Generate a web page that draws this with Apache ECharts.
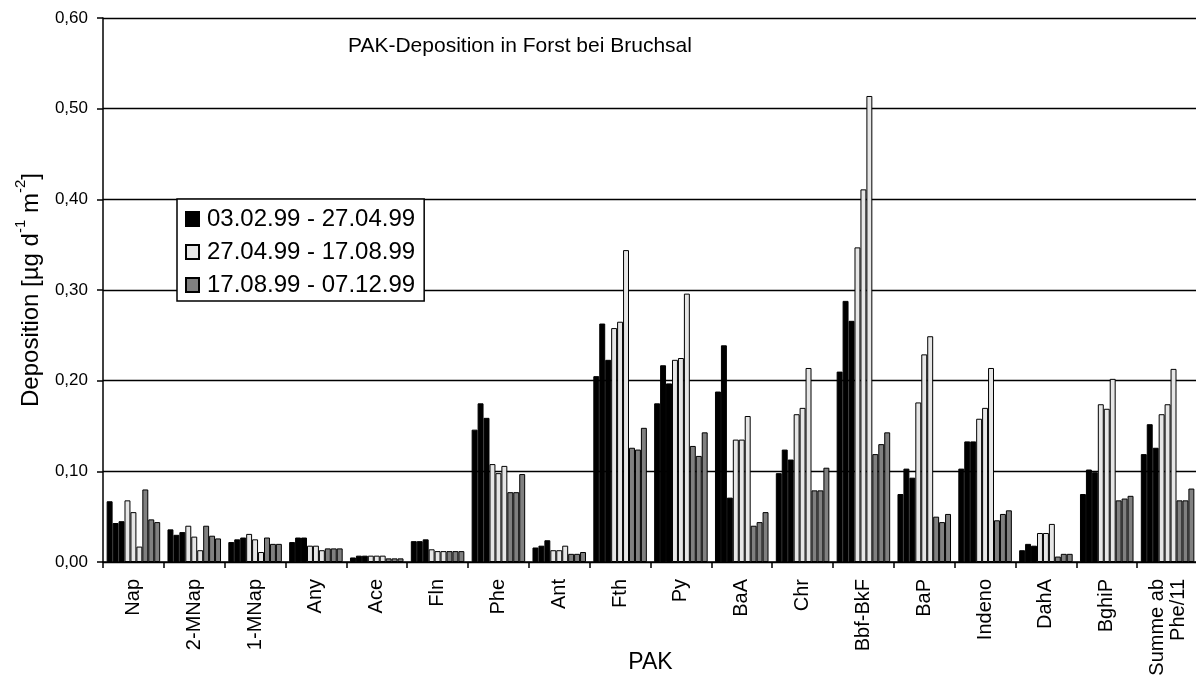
<!DOCTYPE html>
<html>
<head>
<meta charset="utf-8">
<title>PAK-Deposition in Forst bei Bruchsal</title>
<script src="https://cdn.jsdelivr.net/npm/echarts@6/dist/echarts.min.js"></script>
<style>
  html, body { margin: 0; padding: 0; background: #ffffff; }
  #chart { width: 1196px; height: 678px; }
</style>
</head>
<body>
<div id="chart"></div>
<script>
// PAK categories on the x axis
const categories = ['Nap', '2-MNap', '1-MNap', 'Any', 'Ace', 'Fln', 'Phe', 'Ant', 'Fth', 'Py',
  'BaA', 'Chr', 'Bbf-BkF', 'BaP', 'Indeno', 'DahA', 'BghiP', 'Summe ab\nPhe/11'];

// Sampling periods (legend entries)
const periods = ['03.02.99 - 27.04.99', '27.04.99 - 17.08.99', '17.08.99 - 07.12.99'];

// Deposition [µg d-1 m-2], three samplers per period
const p1a = [0.067, 0.036, 0.022, 0.022, 0.005, 0.023, 0.146, 0.016, 0.205, 0.175, 0.188, 0.098, 0.210, 0.075, 0.103, 0.013, 0.075, 0.119];
const p1b = [0.043, 0.030, 0.025, 0.027, 0.007, 0.023, 0.175, 0.018, 0.263, 0.217, 0.239, 0.124, 0.288, 0.103, 0.133, 0.020, 0.102, 0.152];
const p1c = [0.045, 0.033, 0.027, 0.027, 0.007, 0.025, 0.159, 0.024, 0.223, 0.197, 0.071, 0.113, 0.266, 0.093, 0.133, 0.018, 0.099, 0.126];

const p2a = [0.068, 0.040, 0.031, 0.018, 0.007, 0.014, 0.108, 0.013, 0.258, 0.223, 0.135, 0.163, 0.347, 0.176, 0.158, 0.032, 0.174, 0.163];
const p2b = [0.055, 0.028, 0.025, 0.018, 0.007, 0.012, 0.098, 0.013, 0.265, 0.225, 0.135, 0.170, 0.411, 0.229, 0.170, 0.032, 0.169, 0.174];
const p2c = [0.017, 0.013, 0.011, 0.013, 0.007, 0.012, 0.106, 0.018, 0.344, 0.296, 0.161, 0.214, 0.514, 0.249, 0.214, 0.042, 0.202, 0.213];

const p3a = [0.080, 0.040, 0.027, 0.015, 0.004, 0.012, 0.077, 0.009, 0.126, 0.128, 0.040, 0.079, 0.119, 0.050, 0.046, 0.006, 0.068, 0.068];
const p3b = [0.047, 0.029, 0.020, 0.015, 0.004, 0.012, 0.077, 0.009, 0.124, 0.117, 0.044, 0.079, 0.130, 0.044, 0.053, 0.009, 0.070, 0.068];
const p3c = [0.044, 0.026, 0.020, 0.015, 0.004, 0.012, 0.097, 0.011, 0.148, 0.143, 0.055, 0.104, 0.143, 0.053, 0.057, 0.009, 0.073, 0.081];

// Y axis ticks
const yMin = 0, yMax = 0.6, yStep = 0.1;

const FONT = "'Liberation Sans', Arial, Helvetica, sans-serif";
const fills = ['#000000', '#e6e6e6', '#808080'];

const groups = [[p1a, p1b, p1c], [p2a, p2b, p2c], [p3a, p3b, p3c]];
const series = [];
groups.forEach((grp, gi) => {
  grp.forEach(values => {
    series.push({
      type: 'bar',
      name: periods[gi],
      data: values,
      barGap: '0%',
      barCategoryGap: '12%',
      itemStyle: { color: fills[gi], borderColor: '#000000', borderWidth: 1 },
      emphasis: { disabled: true }
    });
  });
});

const chart = echarts.init(document.getElementById('chart'), null, { renderer: 'canvas' });
chart.setOption({
  animation: false,
  backgroundColor: '#ffffff',
  textStyle: { fontFamily: FONT, color: '#000000' },
  title: {
    text: 'PAK-Deposition in Forst bei Bruchsal',
    left: 343, top: 31,
    textStyle: { fontFamily: FONT, fontSize: 21, fontWeight: 'normal', color: '#000000' }
  },
  legend: {
    data: periods,
    orient: 'vertical',
    left: 177, top: 199,
    backgroundColor: '#ffffff',
    borderColor: '#000000',
    borderWidth: 1.5,
    borderRadius: 0,
    padding: [8, 9, 4, 8],
    itemWidth: 13, itemHeight: 14, itemGap: 9,
    icon: 'rect',
    selectedMode: false,
    textStyle: { fontFamily: FONT, fontSize: 24, color: '#000000', padding: [0, 0, 0, 3] }
  },
  grid: { left: 103, right: -2, top: 18, bottom: 116, containLabel: false, outerBoundsMode: 'none' },
  xAxis: {
    type: 'category',
    data: categories,
    name: 'PAK',
    nameLocation: 'middle',
    nameGap: 89,
    nameMoveOverlap: false,
    nameTextStyle: { fontFamily: FONT, fontSize: 23, color: '#000000' },
    axisLine: { lineStyle: { color: '#000000', width: 1.5 } },
    axisTick: { show: true, length: 6, lineStyle: { color: '#000000', width: 1.5 } },
    axisLabel: { interval: 0, rotate: 90, margin: 17, fontFamily: FONT, fontSize: 20, color: '#000000', lineHeight: 21 },
    splitLine: { show: false }
  },
  yAxis: {
    type: 'value',
    min: yMin, max: yMax, interval: yStep,
    name: '{t|Deposition [µg d}{s|-1}{t| m}{s|-2}{t|]}',
    nameLocation: 'middle',
    nameGap: 60,
    nameMoveOverlap: false,
    nameTextStyle: {
      fontFamily: FONT, fontSize: 24, color: '#000000',
      rich: {
        t: { fontFamily: FONT, fontSize: 24, color: '#000000', verticalAlign: 'bottom', lineHeight: 30 },
        s: { fontFamily: FONT, fontSize: 15, color: '#000000', verticalAlign: 'top', lineHeight: 30 }
      }
    },
    axisLine: { show: true, lineStyle: { color: '#000000', width: 1.5 } },
    axisTick: { show: true, length: 6, lineStyle: { color: '#000000', width: 1.5 } },
    axisLabel: {
      margin: 15, fontFamily: FONT, fontSize: 17, color: '#000000',
      formatter: v => v.toFixed(2).replace('.', ',')
    },
    splitLine: { show: true, lineStyle: { color: '#000000', width: 1.3 } }
  },
  series: series
});
</script>
</body>
</html>
